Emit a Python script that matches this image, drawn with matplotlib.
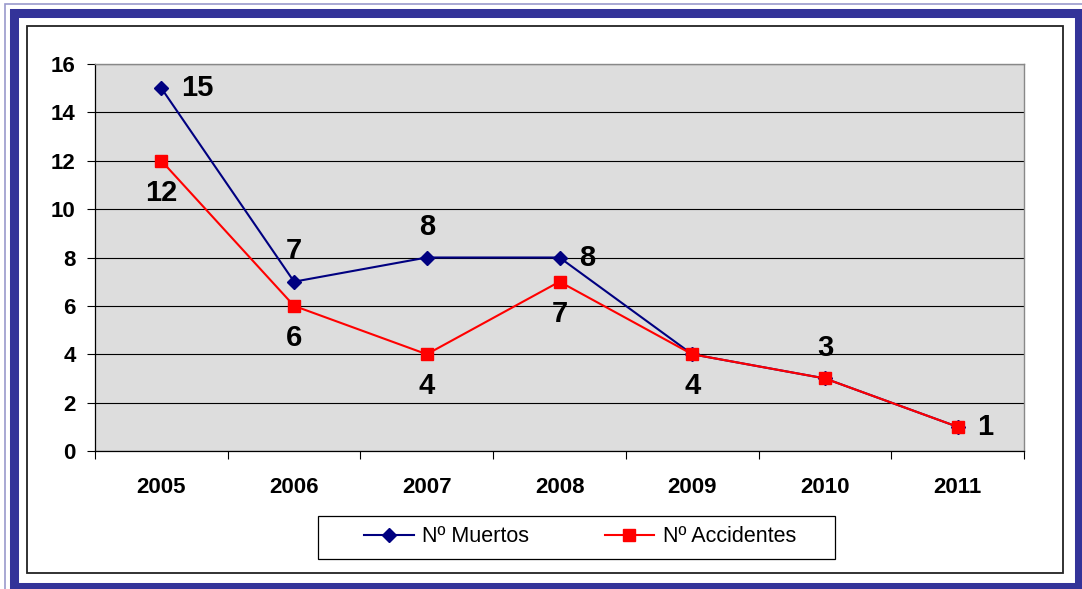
import numpy as np
import matplotlib
matplotlib.use('Agg')
import matplotlib.pyplot as plt
from matplotlib.patches import Rectangle
from matplotlib.lines import Line2D

plt.rcParams['font.family'] = ['Liberation Sans', 'DejaVu Sans']

# data
years = ['2005', '2006', '2007', '2008', '2009', '2010', '2011']
muertos = [15, 7, 8, 8, 4, 3, 1]
accidentes = [12, 6, 4, 7, 4, 3, 1]
# label placement for each point (None = no label)
muertos_pos = ['right', 'above', 'above', 'right', None, 'above', 'right']
accid_pos = ['below', 'below', 'below', 'below', 'below', None, None]

W, H = 1082, 589
fig = plt.figure(figsize=(W / 100, H / 100), dpi=100, facecolor='white')


def px_rect(x0, y0, x1, y1, **kw):
    # rectangle in image pixel coords (top-left origin) -> figure fraction
    r = Rectangle((x0 / W, 1 - y1 / H), (x1 - x0) / W, (y1 - y0) / H,
                  transform=fig.transFigure, fill=False, **kw)
    fig.patches.append(r)


# decorative frame
px_rect(5, 4, 1090, 600, edgecolor='#9999cc', linewidth=1.2)
px_rect(13.5, 12.5, 1079, 587, edgecolor='#333399', linewidth=6.5)
px_rect(27, 26, 1063, 573, edgecolor='#222222', linewidth=1.3)
# legend box
px_rect(318, 516, 835, 559, edgecolor='black', linewidth=0.9)

ax = fig.add_axes([95 / W, 1 - 451 / H, 929 / W, 387 / H])
ax.set_facecolor('#dddddd')

x = np.arange(len(years))
ax.plot(x, muertos, color='#000080', marker='D', markersize=7,
        linewidth=1.5, zorder=3)
ax.plot(x, accidentes, color='#ff0000', marker='s', markersize=8,
        linewidth=1.5, zorder=4)

offs = {'right': (14, 0), 'above': (0, 22), 'below': (0, -23)}
align = {'right': ('left', 'center'), 'above': ('center', 'center'),
         'below': ('center', 'center')}
for vals, poss in [(muertos, muertos_pos), (accidentes, accid_pos)]:
    for xi, v, p in zip(x, vals, poss):
        if p is None:
            continue
        ha, va = align[p]
        ax.annotate(str(v), (xi, v), xytext=offs[p], textcoords='offset points',
                    ha=ha, va=va, fontsize=21, fontweight='bold', zorder=5)

ax.set_xlim(-0.5, len(years) - 0.5)
ax.set_ylim(0, 16)
ax.set_yticks(np.arange(0, 17, 2))
ax.set_xticks(x)
ax.set_xticklabels(years)
ax.set_xticks(np.arange(-0.5, len(years), 1), minor=True)
ax.tick_params(axis='x', which='major', length=0, pad=19)
ax.tick_params(axis='x', which='minor', length=6, width=0.8, direction='out')
ax.tick_params(axis='y', length=6, width=0.8, pad=8)
for lbl in ax.get_xticklabels() + ax.get_yticklabels():
    lbl.set_fontweight('bold')
    lbl.set_fontsize(16)

ax.grid(axis='y', color='black', linewidth=0.8)
ax.set_axisbelow(True)
for side in ['top', 'right']:
    ax.spines[side].set_color('#888888')
    ax.spines[side].set_linewidth(1.0)
for side in ['left', 'bottom']:
    ax.spines[side].set_color('black')
    ax.spines[side].set_linewidth(0.9)

handles = [
    Line2D([], [], color='#000080', marker='D', markersize=7, linewidth=1.5),
    Line2D([], [], color='#ff0000', marker='s', markersize=8, linewidth=1.5),
]
leg = fig.legend(handles, ['Nº Muertos', 'Nº Accidentes'], loc='center',
                 bbox_to_anchor=(580 / W, 1 - 537 / H), ncol=2,
                 fontsize=15.5, frameon=False, handlelength=2.3,
                 columnspacing=3.5, handletextpad=0.4, borderpad=0.3,
                 borderaxespad=0)

fig.savefig('out.png', dpi=100, facecolor='white')
plt.close()
